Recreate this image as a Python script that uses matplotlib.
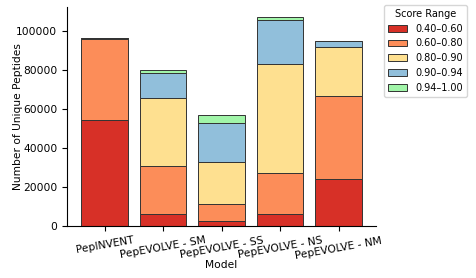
import matplotlib.pyplot as plt
import numpy as np

# -----------------------------
# Data
# -----------------------------
models = ["PepINVENT", "PepEVOLVE - SM", "PepEVOLVE - SS", "PepEVOLVE - NS", "PepEVOLVE - NM"]
ranges = ["0.40–0.60", "0.60–0.80", "0.80–0.90", "0.90–0.94", "0.94–1.00"]

r_40_60 = [54300, 5830, 2400, 6000, 24010]
r_60_80 = [41760, 25050, 8580, 20930, 42720]
r_80_90 = [300, 34650, 21780, 56090, 25210]
r_90_94 = [0, 13030, 19900, 22640, 2920]
r_94_100 = [0, 1370, 4460, 1540, 340]

series = [r_40_60, r_60_80, r_80_90, r_90_94, r_94_100]
colors = ["#d73027", "#fc8d59", "#fee090", "#91bfdb", "#a1f5a9"]

# -----------------------------
# Plot
# -----------------------------
fig = plt.figure(figsize=(4.76, 2.78), dpi=100)
ax = fig.add_axes([0.141, 0.188, 0.649, 0.787])

x = np.arange(len(models))
bottom = np.zeros(len(models))
for vals, lab, c in zip(series, ranges, colors):
    vals = np.array(vals, dtype=float)
    ax.bar(x, vals, bottom=bottom, width=0.8, color=c, edgecolor="#333333",
           linewidth=0.7, label=lab)
    bottom += vals

ax.set_xticks(x)
ax.set_xticklabels(models, rotation=10, fontsize=7.7)
ax.tick_params(axis="y", labelsize=7.7)
ax.set_xlabel("Model", fontsize=7.7)
ax.set_ylabel("Number of Unique Peptides", fontsize=7.7)
ax.yaxis.set_label_coords(-0.142, 0.5)
ax.xaxis.set_label_coords(0.5, -0.155)

for spine in ["top", "right"]:
    ax.spines[spine].set_visible(False)

leg = ax.legend(title="Score Range", bbox_to_anchor=(1.026, 1.01), loc="upper left",
                fontsize=7, title_fontsize=7, borderaxespad=0)

fig.savefig("out.png", dpi=100)
